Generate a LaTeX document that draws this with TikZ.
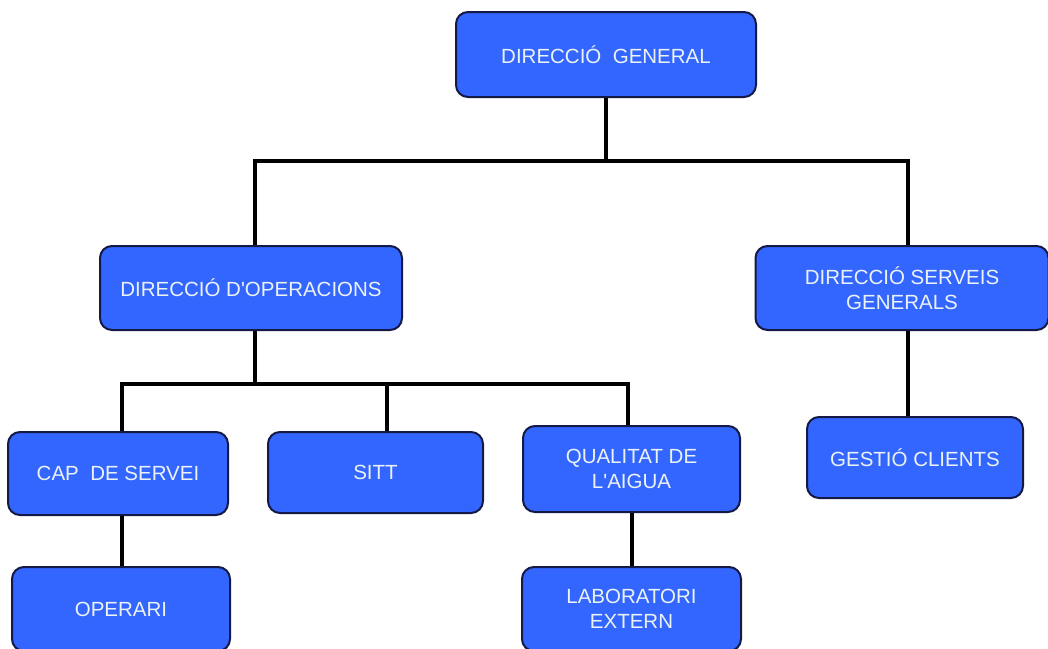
\documentclass[tikz,border=0pt]{standalone}
\usepackage{fontspec}
\setmainfont{Liberation Sans}
\definecolor{boxblue}{RGB}{51,102,255}
\definecolor{boxedge}{RGB}{20,25,70}
\definecolor{txt}{RGB}{235,242,245}
\begin{document}
\begin{tikzpicture}[x=1pt,y=-1pt,
  box/.style={draw=boxedge,line width=2pt,fill=boxblue,rounded corners=12pt,
    text=txt,align=center,inner sep=0pt,
    font=\fontsize{20.5}{25}\selectfont},
  wire/.style={line width=4pt,black}]
\useasboundingbox (0,0) rectangle (1048,648);
\fill[white] (0,0) rectangle (1048,648);
\node[box,minimum width=300pt,minimum height=85pt] (DG) at (606,54.5) {DIRECCIÓ\ \ GENERAL};
\node[box,minimum width=302pt,minimum height=84pt] (DO) at (251,288) {DIRECCIÓ D\textquotesingle OPERACIONS};
\node[box,minimum width=293pt,minimum height=84pt] (DSG) at (902,288) {DIRECCIÓ SERVEIS\\GENERALS};
\node[box,minimum width=220pt,minimum height=83pt] (CAP) at (118,473.5) {CAP\ \ DE SERVEI};
\node[box,minimum width=215pt,minimum height=81pt] (SITT) at (375.5,472.5) {SITT};
\node[box,minimum width=217pt,minimum height=86pt] (Q) at (631.5,469) {QUALITAT DE\\L\textquotesingle AIGUA};
\node[box,minimum width=216pt,minimum height=81pt] (GC) at (915,457.5) {GESTIÓ CLIENTS};
\node[box,minimum width=218pt,minimum height=84pt] (OP) at (121,609) {OPERARI};
\node[box,minimum width=219pt,minimum height=84pt] (LAB) at (631.5,609) {LABORATORI\\EXTERN};
\coordinate (b1) at (255,161);
\coordinate (b2) at (908,161);
\coordinate (c0) at (255,384);
\coordinate (c1) at (122,384);
\coordinate (c2) at (387,384);
\coordinate (c3) at (628,384);
\draw[wire] (DG.south) -- (DG.south |- b1);
\draw[wire] (DO.north -| b1) -- (b1) -- (b2) -- (DSG.north -| b2);
\draw[wire] (DO.south -| c0) -- (c0);
\draw[wire] (CAP.north -| c1) -- (c1) -- (c3) -- (Q.north -| c3);
\draw[wire] (c2) -- (SITT.north -| c2);
\draw[wire] (CAP.south -| c1) -- (OP.north -| c1);
\draw[wire] (Q.south -| 632,0) -- (LAB.north -| 632,0);
\draw[wire] (DSG.south -| b2) -- (GC.north -| b2);
\end{tikzpicture}
\end{document}
